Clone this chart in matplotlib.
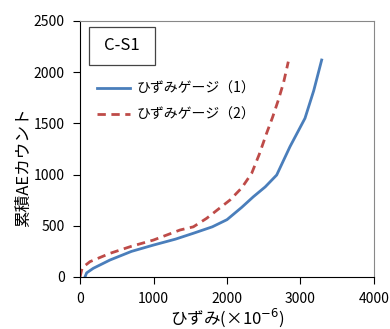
import matplotlib.pyplot as plt
from matplotlib.patches import Rectangle

plt.rcParams['font.family'] = ['Noto Sans CJK JP', 'DejaVu Sans']

# ひずみゲージ(1)
strain1 = [68, 90, 181, 408, 700, 1000, 1300, 1542, 1800, 2000, 2200, 2359, 2520, 2676, 2857, 3061, 3180, 3288]
ae1 = [0, 40, 85, 166, 250, 312, 370, 427, 490, 560, 680, 784, 880, 996, 1273, 1550, 1820, 2119]

# ひずみゲージ(2)
strain2 = [0, 30, 136, 408, 700, 1000, 1361, 1542, 1723, 2041, 2200, 2336, 2440, 2540, 2620, 2699, 2770, 2834]
ae2 = [0, 90, 150, 231, 300, 361, 459, 490, 573, 752, 870, 1013, 1200, 1406, 1560, 1729, 1900, 2103]

fig = plt.figure(figsize=(3.9, 3.29), dpi=100)
ax = fig.add_axes([80 / 390, 1 - 277 / 329, 294 / 390, 256 / 329])

ax.plot(strain1, ae1, color='#4A7EBB', lw=2.0, label='ひずみゲージ（1）')
ax.plot(strain2, ae2, color='#BE4B48', lw=2.0, ls=(0, (3, 2)), label='ひずみゲージ（2）')

ax.set_xlim(0, 4000)
ax.set_ylim(0, 2500)
ax.set_xticks([0, 1000, 2000, 3000, 4000])
ax.set_yticks([0, 500, 1000, 1500, 2000, 2500])
ax.tick_params(direction='out', length=5, labelsize=10, color='black')
ax.tick_params(axis='x', pad=6)
ax.tick_params(axis='y', pad=6)
for s in ['top', 'right']:
    ax.spines[s].set_color('#888888')
for s in ['left', 'bottom']:
    ax.spines[s].set_color('black')

ax.set_xlabel('ひずみ(×10$^{-6}$)', fontsize=12, labelpad=0)
ax.set_ylabel('累積AEカウント', fontsize=12)
ax.yaxis.set_label_coords(-0.163, 0.43)

# C-S1 box
ax.add_patch(Rectangle((9 / 294, (277 - 65) / 256), 66 / 294, 38 / 256, transform=ax.transAxes,
                       fc='white', ec='#444444', lw=0.9, zorder=3))
ax.text(42 / 294, (277 - 46) / 256, 'C-S1', transform=ax.transAxes, fontsize=12,
        ha='center', va='center', zorder=4)

ax.legend(loc='upper left', bbox_to_anchor=(0.015, 0.81), frameon=False, fontsize=10,
          handlelength=2.4, labelspacing=0.85, handletextpad=0.45)

fig.savefig('out.png', dpi=100)
